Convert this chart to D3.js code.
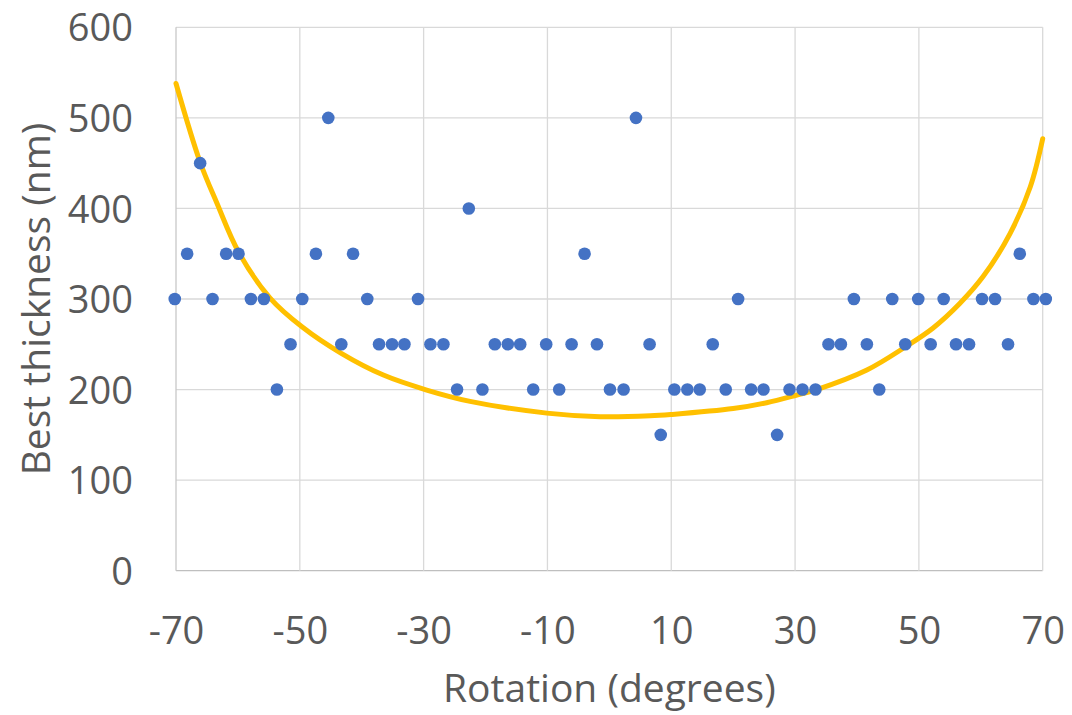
<!DOCTYPE html>
<html>
<head>
<meta charset="utf-8">
<script src="https://cdn.jsdelivr.net/npm/d3@7"></script>
<style>
  body { margin: 0; background: #ffffff; }
  text { font-family: "Open Sans", "Liberation Sans", sans-serif; fill: #595959; }
</style>
</head>
<body>
<div id="chart-area"></div>
<script>
// measured points (rotation in degrees, best thickness in nm)
var rotation = [-70.2, -68.2, -66.1, -64.1, -61.9, -59.9, -57.9, -55.8, -53.7, -51.5,
  -49.6, -47.4, -45.4, -43.3, -41.4, -39.1, -37.2, -35.1, -33.1, -30.9,
  -28.9, -26.8, -24.6, -22.7, -20.5, -18.5, -16.4, -14.4, -12.3, -10.2,
  -8.1, -6.1, -4.0, -2.0, 0.1, 2.3, 4.3, 6.5, 8.3, 10.5,
  12.6, 14.6, 16.7, 18.8, 20.8, 22.9, 24.9, 27.1, 29.1, 31.2,
  33.3, 35.4, 37.4, 39.5, 41.6, 43.6, 45.7, 47.8, 49.9, 51.9,
  54.0, 56.0, 58.1, 60.2, 62.3, 64.4, 66.3, 68.5, 70.5];
var thickness = [300, 350, 450, 300, 350, 350, 300, 300, 200, 250,
  300, 350, 500, 250, 350, 300, 250, 250, 250, 300,
  250, 250, 200, 400, 200, 250, 250, 250, 200, 250,
  200, 250, 350, 250, 200, 200, 500, 250, 150, 200,
  200, 200, 250, 200, 300, 200, 200, 150, 200, 200,
  200, 250, 250, 300, 250, 200, 300, 250, 300, 250,
  300, 250, 250, 300, 300, 250, 350, 300, 300];

// trendline
var trendRotation = [-70, -66.1, -63.4, -59.9, -54.8, -49.6, -43.3, -36.5, -29.5, -22.5,
  -10.1, -1.5, 6.6, 10, 20, 25.4, 30.3, 33.5, 41.6, 47.8, 52.3, 56.6, 60.4, 64.7, 68, 70];
var trendThickness = [538, 451, 406, 352, 301, 269, 240, 216, 199.5, 187,
  174, 170, 171, 172.5, 179, 185.5, 194, 200, 221.6, 247, 268, 295, 325, 372, 424, 477];

var xTicks = [-70, -50, -30, -10, 10, 30, 50, 70];
var xGrid = [-70, -50, -30, -10, 10, 30, 50, 70];
var yTicks = [0, 100, 200, 300, 400, 500, 600];

var totalW = 1072, totalH = 715;
var margin = { left: 176, right: 29.3, top: 27.3, bottom: 144.3 };
var width = totalW - margin.left - margin.right;
var height = totalH - margin.top - margin.bottom;

var points = rotation.map(function (d, i) {
  return { x: d, y: thickness[i] };
});
var trend = trendRotation.map(function (d, i) {
  return { x: d, y: trendThickness[i] };
});

var xscale = d3.scaleLinear().domain([-70, 70]).range([0, width]);
var yscale = d3.scaleLinear().domain([0, 600]).range([height, 0]);

var svg = d3
  .select("#chart-area")
  .append("svg")
  .attr("width", totalW)
  .attr("height", totalH);

var g = svg
  .append("g")
  .attr("transform", "translate(" + margin.left + "," + margin.top + ")");

// gridlines
g.selectAll(".hgrid")
  .data(yTicks)
  .enter()
  .append("line")
  .attr("class", "hgrid")
  .attr("x1", 0)
  .attr("x2", width)
  .attr("y1", function (d) { return yscale(d); })
  .attr("y2", function (d) { return yscale(d); })
  .attr("stroke", function (d) { return d === 0 ? "#BFBFBF" : "#D9D9D9"; })
  .attr("stroke-width", 1.3);

g.selectAll(".vgrid")
  .data(xGrid)
  .enter()
  .append("line")
  .attr("class", "vgrid")
  .attr("x1", function (d) { return xscale(d); })
  .attr("x2", function (d) { return xscale(d); })
  .attr("y1", 0)
  .attr("y2", height)
  .attr("stroke", function (d) { return d === -70 ? "#C8C8C8" : "#D9D9D9"; })
  .attr("stroke-width", 1.3);

// axes (labels only, Excel style)
var yAxis = d3.axisLeft(yscale).tickValues(yTicks).tickSize(0).tickPadding(43);
g.append("g")
  .attr("class", "y-axis")
  .call(yAxis)
  .call(function (a) { a.select(".domain").remove(); })
  .selectAll("text")
  .attr("font-size", "38px")
  .attr("dy", "0.36em");

// plain hyphen for negatives, like the source chart
var xAxis = d3
  .axisBottom(xscale)
  .tickValues(xTicks)
  .tickSize(0)
  .tickPadding(0)
  .tickFormat(function (d) { return String(d); });
g.append("g")
  .attr("class", "x-axis")
  .attr("transform", "translate(0," + height + ")")
  .call(xAxis)
  .call(function (a) { a.select(".domain").remove(); })
  .selectAll("text")
  .attr("font-size", "38px")
  .attr("dy", null)
  .attr("y", 73);

// trendline
var line = d3
  .line()
  .x(function (d) { return xscale(d.x); })
  .y(function (d) { return yscale(d.y); })
  .curve(d3.curveCatmullRom.alpha(0.5));

g.append("path")
  .datum(trend)
  .attr("d", line)
  .attr("fill", "none")
  .attr("stroke", "#FFC000")
  .attr("stroke-width", 5)
  .attr("stroke-linecap", "round");

// markers
g.selectAll(".dot")
  .data(points)
  .enter()
  .append("circle")
  .attr("class", "dot")
  .attr("cx", function (d) { return xscale(d.x); })
  .attr("cy", function (d) { return yscale(d.y); })
  .attr("r", 6.3)
  .attr("fill", "#4472C4");

// axis titles
svg.append("text")
  .attr("x", margin.left + width / 2)
  .attr("y", 702)
  .attr("text-anchor", "middle")
  .attr("font-size", "39px")
  .text("Rotation (degrees)");

svg.append("text")
  .attr("transform", "translate(50," + (margin.top + height / 2) + ") rotate(-90)")
  .attr("text-anchor", "middle")
  .attr("font-size", "39px")
  .text("Best thickness (nm)");
</script>
</body>
</html>
